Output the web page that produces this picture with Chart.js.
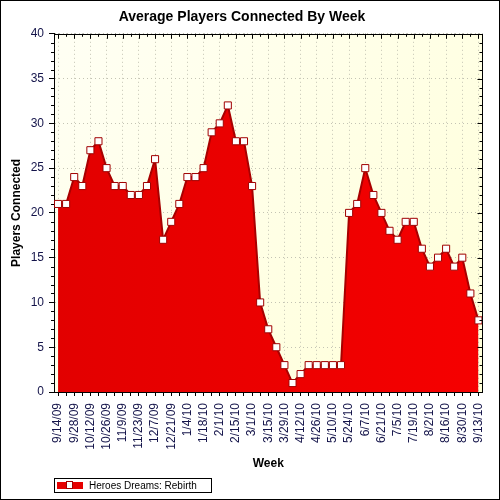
<!DOCTYPE html>
<html>
<head>
<meta charset="utf-8">
<script src="https://cdn.jsdelivr.net/npm/chart.js@4/dist/chart.umd.min.js"></script>
<style>
  html, body { margin: 0; padding: 0; background: #fff; }
  #wrap { width: 500px; height: 500px; }
</style>
</head>
<body>
<div id="wrap"><canvas id="playersChart" width="500" height="500"></canvas></div>
<script>
// weekly samples, 9/14/09 .. 9/13/10
const weeks = [
    '9/14/09', '9/21/09', '9/28/09', '10/5/09', '10/12/09', '10/19/09', '10/26/09', '11/2/09',
    '11/9/09', '11/16/09', '11/23/09', '11/30/09', '12/7/09', '12/14/09', '12/21/09', '12/28/09',
    '1/4/10', '1/11/10', '1/18/10', '1/25/10', '2/1/10', '2/8/10', '2/15/10', '2/22/10',
    '3/1/10', '3/8/10', '3/15/10', '3/22/10', '3/29/10', '4/5/10', '4/12/10', '4/19/10',
    '4/26/10', '5/3/10', '5/10/10', '5/17/10', '5/24/10', '5/31/10', '6/7/10', '6/14/10',
    '6/21/10', '6/28/10', '7/5/10', '7/12/10', '7/19/10', '7/26/10', '8/2/10', '8/9/10',
    '8/16/10', '8/23/10', '8/30/10', '9/6/10', '9/13/10'
];
const players = [
    21, 21, 24, 23, 27, 28, 25, 23, 23, 22, 22, 23, 26, 17, 19, 21,
    24, 24, 25, 29, 30, 32, 28, 28, 23, 10, 7, 5, 3, 1, 2, 3,
    3, 3, 3, 3, 20, 21, 25, 22, 20, 18, 17, 19, 19, 16, 14, 15,
    16, 14, 15, 11, 8
];
const seriesName = 'Heroes Dreams: Rebirth';
const yTicks = [0, 5, 10, 15, 20, 25, 30, 35, 40];

const FONT = 'Liberation Sans, Arial, sans-serif';
const LABEL_COLOR = '#14144a';

/* =========================
   background, frame, legend
========================= */
const framePlugin = {
    id: 'frame',
    beforeDraw(chart) {
        const { ctx, chartArea: a } = chart;
        ctx.save();
        ctx.fillStyle = '#fff';
        ctx.fillRect(0, 0, chart.width, chart.height);
        const g = ctx.createLinearGradient(a.left, a.top, a.right, a.bottom);
        g.addColorStop(0, '#fffff4');
        g.addColorStop(1, '#ffffd8');
        ctx.fillStyle = g;
        ctx.fillRect(a.left, a.top, a.right - a.left, a.bottom - a.top);
        ctx.restore();
    },
    afterDraw(chart) {
        const { ctx, chartArea: a } = chart;
        const x = chart.scales.x, y = chart.scales.y;
        ctx.save();
        ctx.strokeStyle = '#000';
        ctx.lineWidth = 1;
        // outer border
        ctx.strokeRect(0.5, 0.5, chart.width - 1, chart.height - 1);
        // top and right axis lines
        ctx.beginPath();
        ctx.moveTo(a.left, Math.round(a.top) + 0.5);
        ctx.lineTo(a.right, Math.round(a.top) + 0.5);
        ctx.moveTo(Math.round(a.right) + 0.5, a.top);
        ctx.lineTo(Math.round(a.right) + 0.5, a.bottom);
        // inward ticks on top
        weeks.forEach((w, i) => {
            const px = Math.round(x.getPixelForValue(i)) + 0.5;
            ctx.moveTo(px, a.top);
            ctx.lineTo(px, a.top + (i % 2 === 0 ? 5 : 3));
        });
        // inward ticks on right, minor ticks on left
        for (let v = 0; v <= 40; v++) {
            const py = Math.round(y.getPixelForValue(v)) + 0.5;
            ctx.moveTo(a.right, py);
            ctx.lineTo(a.right - (v % 5 === 0 ? 5 : 3), py);
            if (v % 5 !== 0) {
                ctx.moveTo(a.left, py);
                ctx.lineTo(a.left - 3, py);
            }
        }
        ctx.stroke();

        // legend
        const lx = 54, ly = 478;
        ctx.strokeRect(lx + 0.5, ly + 0.5, 157, 14);
        ctx.fillStyle = '#e60000';
        ctx.fillRect(57, 482, 26, 7);
        ctx.fillStyle = '#fff';
        ctx.fillRect(67, 481, 6, 8);
        ctx.strokeStyle = '#a00000';
        ctx.strokeRect(66.5, 481.5, 6, 7);
        ctx.fillStyle = '#000';
        ctx.font = '10px ' + FONT;
        ctx.textBaseline = 'middle';
        ctx.fillText(chart.data.datasets[0].label, 89, 486);
        ctx.restore();
    }
};

/* =========================
   AVERAGE PLAYERS CHART
========================= */
new Chart(document.getElementById('playersChart'), {
    type: 'line',
    data: {
        labels: weeks,
        datasets: [{
            label: seriesName,
            data: players,
            fill: 'origin',
            backgroundColor(ctx) {
                const a = ctx.chart.chartArea;
                if (!a) return '#e80000';
                const g = ctx.chart.ctx.createLinearGradient(a.left, 0, a.right, 0);
                g.addColorStop(0, '#e20000');
                g.addColorStop(1, '#f60000');
                return g;
            },
            borderColor: '#a80000',
            borderWidth: 2,
            tension: 0,
            pointStyle: 'rect',
            pointRadius: 5,
            pointHoverRadius: 5,
            pointBackgroundColor: '#fff',
            pointBorderColor: '#a00000',
            pointBorderWidth: 1
        }]
    },
    plugins: [framePlugin],
    options: {
        responsive: false,
        animation: false,
        layout: { padding: { top: 0, right: 16, bottom: 28, left: 0 } },
        plugins: {
            legend: { display: false },
            tooltip: { enabled: false },
            title: {
                display: true,
                text: 'Average Players Connected By Week',
                color: '#000',
                font: { family: FONT, size: 14, weight: 'bold' },
                padding: { top: 9, bottom: 8 }
            }
        },
        scales: {
            x: {
                offset: true,
                afterFit(scale) { scale.height = 80; },
                grid: {
                    offset: false,
                    color: (c) => c.index % 2 === 0 ? '#c4c4b4' : 'rgba(0,0,0,0)',
                    tickColor: '#000',
                    tickLength: 4,
                    drawTicks: true
                },
                border: { color: '#000', dash: [1, 3] },
                ticks: {
                    autoSkip: false,
                    maxRotation: 90,
                    minRotation: 90,
                    padding: 7,
                    color: LABEL_COLOR,
                    font: { family: FONT, size: 12 },
                    callback(v, i) { return i % 2 === 0 ? weeks[i] : ''; }
                },
                title: {
                    display: true,
                    text: 'Week',
                    color: '#000',
                    font: { family: FONT, size: 12, weight: 'bold' },
                    padding: { top: 0, bottom: 1 }
                }
            },
            y: {
                min: 0,
                max: 40,
                afterFit(scale) { scale.width = 54; },
                afterBuildTicks(scale) { scale.ticks = yTicks.map(v => ({ value: v })); },
                grid: {
                    color: '#c4c4b4',
                    tickColor: '#000',
                    tickLength: 5
                },
                border: { color: '#000', dash: [1, 3] },
                ticks: {
                    padding: 5,
                    color: LABEL_COLOR,
                    font: { family: FONT, size: 12 }
                },
                title: {
                    display: true,
                    text: 'Players Connected',
                    color: '#000',
                    font: { family: FONT, size: 12, weight: 'bold' },
                    padding: { top: 9, bottom: 0 }
                }
            }
        }
    }
});
</script>
</body>
</html>
